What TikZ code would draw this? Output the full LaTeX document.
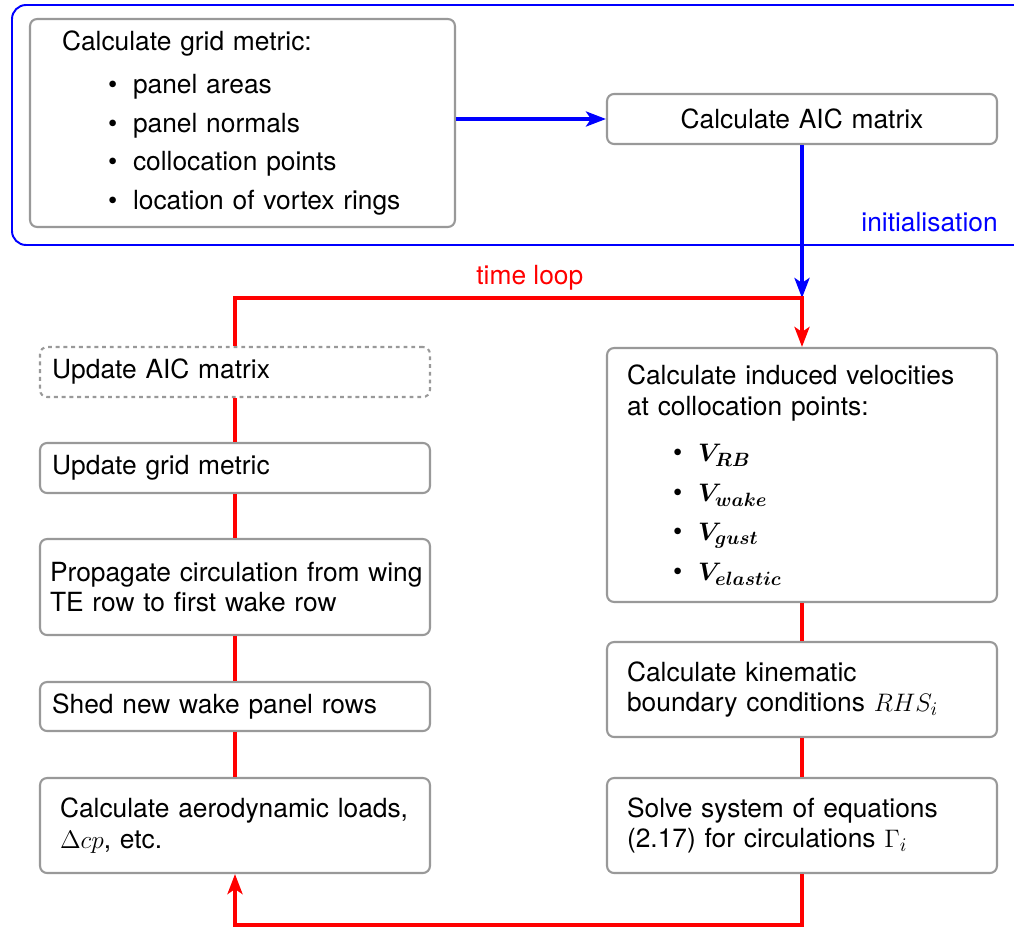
\documentclass[tikz,border=0pt]{standalone}
\usepackage{fontspec}
\setmainfont{TeX Gyre Heros}
\usepackage{amsmath,bm}
\usetikzlibrary{arrows.meta}
\tikzset{
  proc/.style={draw=black!40, line width=1.2pt, rounded corners=4pt, fill=white,
    align=left, inner xsep=0.4cm, inner ysep=0pt, text width=7.0cm,
    font=\fontsize{15}{17.5}\selectfont},
  lproc/.style={proc, inner xsep=0.24cm, text width=7.32cm},
  init/.style={-{Stealth[length=4mm, width=3mm, inset=1mm]}, line width=2.2pt, blue},
  tloop/.style={line width=2.2pt, red},
  tlooparr/.style={tloop, -{Stealth[length=4mm, width=3mm, inset=1mm]}},
  lbl/.style={font=\fontsize{15}{17.5}\selectfont},
}
\newcommand{\blt}[1]{\hspace*{0.92cm}\makebox[0.5cm][l]{\textbullet}#1}

\begin{document}
\begin{tikzpicture}[x=0.02cm, y=-0.02cm]
  \useasboundingbox (0,0) rectangle (1014,929);
  % initialisation block
  \draw[blue, line width=1.1pt, rounded corners=8pt] (12,5) rectangle (1040,245);
  \node[lbl, blue, inner sep=0pt, anchor=base east] (initlbl) at (998,232) {initialisation};
  \node[proc, inner xsep=0.64cm, text width=7.22cm, minimum height=4.16cm] (grid) at (242.5,123) {
    Calculate grid metric:\\[7pt]
    \blt{panel areas}\\[4.5pt]
    \blt{panel normals}\\[4.5pt]
    \blt{collocation points}\\[4.5pt]
    \blt{location of vortex rings}};
  \node[proc, align=center, minimum height=1.0cm] (aic) at (802,119) {Calculate AIC matrix};
  % time loop, right column
  \node[proc, minimum height=5.08cm] (indvel) at (802,475) {
    Calculate induced velocities\\
    at collocation points:\\[9pt]
    \blt{$\bm{V_{RB}}$}\\[5pt]
    \blt{$\bm{V_{wake}}$}\\[5pt]
    \blt{$\bm{V_{gust}}$}\\[5pt]
    \blt{$\bm{V_{elastic}}$}};
  \node[proc, minimum height=1.9cm] (kin) at (802,689.5) {Calculate kinematic\\ boundary conditions $RHS_i$};
  \node[proc, minimum height=1.9cm] (solve) at (802,825.5) {Solve system of equations\\ (2.17) for circulations $\Gamma_i$};
  % time loop, left column
  \node[lproc, dash pattern=on 2.2pt off 2.2pt, minimum height=1.0cm] (updaic) at (235,372) {Update AIC matrix};
  \node[lproc, minimum height=1.0cm] (updgrid) at (235,468) {Update grid metric};
  \node[lproc, inner xsep=0.2cm, text width=7.4cm, minimum height=1.92cm] (prop) at (235,587) {\mbox{Propagate circulation from wing}\\ TE row to first wake row};
  \node[lproc, minimum height=0.98cm] (shed) at (235,706.5) {Shed new wake panel rows};
  \node[proc, minimum height=1.9cm] (aero) at (235,825.5) {Calculate aerodynamic loads,\\ $\Delta cp$, etc.};
  \coordinate (looptop) at (802,298);
  \coordinate (loopbot) at (802,925);
  % connectors
  \draw[init] (grid.east |- aic.west) -- (aic.west);
  \draw[init] (aic.south) -- (looptop);
  \draw[tlooparr] (updaic.north) |- node[lbl, red, above, pos=0.76] (looplbl) {time loop} (looptop) -- (indvel.north);
  \draw[tloop] (indvel.south) -- (kin.north);
  \draw[tloop] (kin.south) -- (solve.north);
  \draw[tlooparr] (solve.south) -- (loopbot) -| (aero.south);
  \draw[tloop] (updaic.south) -- (updgrid.north);
  \draw[tloop] (updgrid.south) -- (prop.north);
  \draw[tloop] (prop.south) -- (shed.north);
  \draw[tloop] (shed.south) -- (aero.north);
\end{tikzpicture}
\end{document}
